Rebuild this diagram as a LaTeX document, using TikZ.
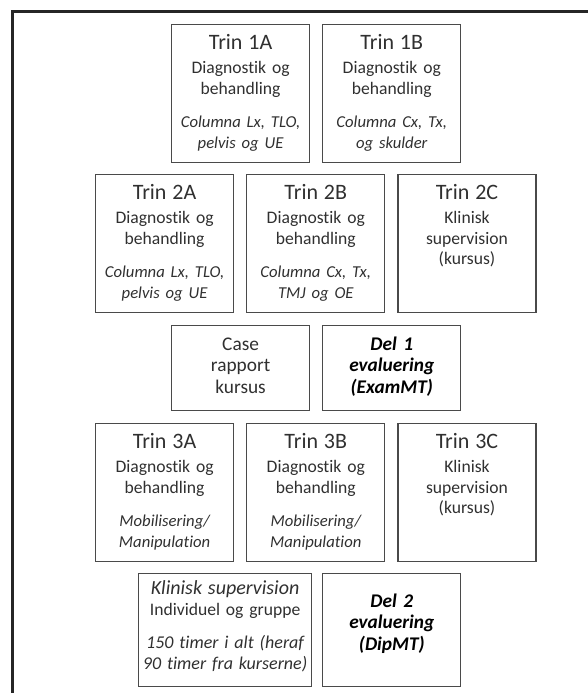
\documentclass[tikz,border=0pt]{standalone}
\usepackage{fontspec}
\setmainfont[Ligatures=NoCommon]{Carlito}
\usetikzlibrary{positioning}
\definecolor{boxline}{HTML}{4A4A4A}
\definecolor{txt}{HTML}{303030}
\definecolor{frame}{HTML}{262626}
\newcommand{\titel}{\fontsize{16.5}{16}\selectfont}
\newcommand{\kursiv}{\fontsize{12.5}{15}\selectfont\itshape}
\begin{document}
\begin{tikzpicture}[x=0.75pt, y=-0.75pt, node distance=9pt,
  trin/.style={draw=boxline, line width=0.9pt, text=txt, inner sep=0pt, align=center,
    text width=103.5pt, font=\fontsize{13.2}{15.5}\selectfont,
    text height=18.75pt, text depth=84.75pt},
  kort/.style={trin, font=\fontsize{14.5}{16}\selectfont, text depth=45pt},
  del/.style={text=black, font=\fontsize{14.5}{16}\selectfont\bfseries\itshape},
  klin/.style={trin, text width=129.75pt, text height=15.75pt, text depth=69pt},
  slut/.style={trin, del, text height=25.5pt, text depth=59.25pt}]
\useasboundingbox (0,0) rectangle (587,693);
\draw[frame, line width=2.2pt] (12.2,700) -- (12.2,11.4) -- (600,11.4);

\node[trin, anchor=north west] (1a) at (171,24) {{\titel Trin 1A}\\[2.5pt]Diagnostik og\\behandling\\[10pt]{\kursiv Columna Lx, TLO,\\pelvis og UE}};
\node[trin] (1b) [right=of 1a] {{\titel Trin 1B}\\[2.5pt]Diagnostik og\\behandling\\[10pt]{\kursiv Columna Cx, Tx,\\og skulder}};

\node[trin, anchor=north west] (2a) at (95,174) {{\titel Trin 2A}\\[2.5pt]Diagnostik og\\behandling\\[10pt]{\kursiv Columna Lx, TLO,\\pelvis og UE}};
\node[trin] (2b) [right=of 2a] {{\titel Trin 2B}\\[2.5pt]Diagnostik og\\behandling\\[10pt]{\kursiv Columna Cx, Tx,\\TMJ og OE}};
\node[trin] (2c) [right=of 2b] {{\titel Trin 2C}\\[2.5pt]Klinisk\\supervision\\(kursus)};

\node[kort, anchor=north west] (case) at (171,325) {Case\\rapport\\kursus};
\node[kort, del] (del1) [right=of case] {Del 1\\evaluering\\(ExamMT)};

\node[trin, anchor=north west] (3a) at (95,423) {{\titel Trin 3A}\\[2.5pt]Diagnostik og\\behandling\\[10pt]{\kursiv Mobilisering/\\Manipulation}};
\node[trin] (3b) [right=of 3a] {{\titel Trin 3B}\\[2.5pt]Diagnostik og\\behandling\\[10pt]{\kursiv Mobilisering/\\Manipulation}};
\node[trin] (3c) [right=of 3b] {{\titel Trin 3C}\\[2.5pt]Klinisk\\supervision\\(kursus)};

\node[klin, anchor=north west] (klinisk) at (138,573) {{\fontsize{15}{16}\selectfont\itshape Klinisk supervision}\\Individuel og gruppe\\[10pt]{\fontsize{13.5}{15}\selectfont\itshape 150 timer i alt (heraf\\90 timer fra kurserne)}};
\node[slut] (del2) [right=7.5pt of klinisk] {Del 2\\evaluering\\(DipMT)};
\end{tikzpicture}
\end{document}
